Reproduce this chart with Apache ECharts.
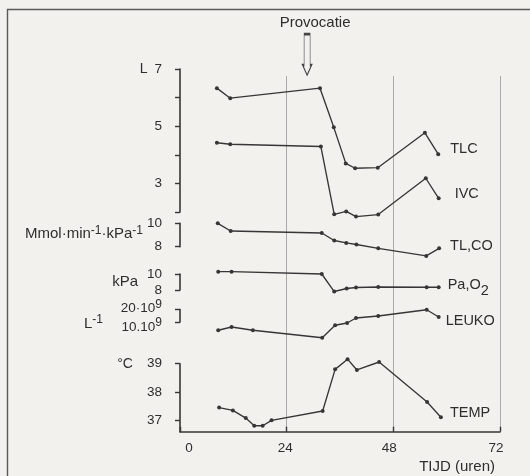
<!DOCTYPE html>
<html><head><meta charset="utf-8">
<script src="https://cdn.jsdelivr.net/npm/echarts@6/dist/echarts.min.js"></script>
<style>html,body{margin:0;padding:0;background:#f2f1ed;} #c{width:530px;height:476px;}</style>
</head><body><div id="c"></div>
<script>
// ---- data (hours after start) ----
const hoursTLC   = [8.3, 11.3, 31.5, 34.6, 37.3, 39.4, 44.5, 55.1, 58.1];
const tlc        = [6.33, 5.98, 6.33, 4.96, 3.70, 3.53, 3.55, 4.77, 4.02];
const hoursIVC   = [8.3, 11.3, 31.7, 34.7, 37.4, 39.6, 44.6, 55.3, 58.2];
const ivc        = [4.42, 4.37, 4.29, 1.92, 2.02, 1.84, 1.91, 3.18, 2.48];
const hoursTLCO  = [8.5, 11.4, 31.9, 34.7, 37.4, 39.7, 44.6, 55.4, 58.3];
const tlco       = [10.0, 9.34, 9.17, 8.53, 8.32, 8.19, 7.86, 7.21, 7.86];
const hoursPaO2  = [8.6, 11.6, 31.9, 34.7, 37.5, 39.6, 44.6, 55.5, 58.2];
const paO2       = [10.29, 10.29, 10.0, 7.81, 8.19, 8.31, 8.38, 8.34, 8.34];
const hoursLeuko = [8.6, 11.6, 16.4, 32.0, 34.9, 37.6, 39.6, 44.6, 55.5, 58.2];
const leuko      = [3.4, 6.0, 3.4, -2.6, 7.4, 9.2, 13.2, 14.8, 19.8, 14.0]; // x 10^9
const hoursTemp  = [8.8, 11.9, 14.8, 16.7, 18.6, 20.6, 32.1, 34.9, 37.7, 39.8, 44.8, 55.6, 58.7];
const temp       = [37.45, 37.35, 37.08, 36.81, 36.81, 37.0, 37.33, 38.80, 39.16, 38.78, 39.06, 37.65, 37.11];
const xTickLabels = [0, 24, 48, 72];
const lTickLabels = [3, 5, 7];
const tempTickLabels = [37, 38, 39];
const provocatieHour = 28.6;

const INK = '#363636';
const TXT = '#2e2e2e';
const BG = '#f2f1ed';
const FONT = '"Liberation Sans", Arial, sans-serif';
const L = 180, W = 320;

function pairs(h, v) { return h.map((x, i) => [x, v[i]]); }

const supRich = {
  b: { fontSize: 15, color: TXT, fontFamily: FONT, verticalAlign: 'bottom' },
  s: { fontSize: 12, color: TXT, fontFamily: FONT, verticalAlign: 'top', padding: [0, 0, 6, 0] }
};
function tok(size, pad, va) {
  return { fontSize: size, color: TXT, fontFamily: FONT, verticalAlign: va || 'top', padding: pad };
}

function mkGrid(top, height) {
  return { left: L, width: W, top: top, height: height, containLabel: false, outerBoundsMode: 'none' };
}
function hiddenX(i) {
  return { gridIndex: i, type: 'value', min: 0, max: 72, interval: 24, show: false };
}
function yBase(i, extra) {
  return Object.assign({
    gridIndex: i, type: 'value',
    axisLine: { show: true, lineStyle: { color: INK, width: 1.6 } },
    axisTick: { show: true, inside: false, length: 5, lineStyle: { color: INK, width: 1.4 } },
    axisLabel: { show: true, margin: 18, fontSize: 13.5, color: TXT, fontFamily: FONT,
                 showMinLabel: true, showMaxLabel: true, hideOverlap: false },
    splitLine: { show: false },
    nameMoveOverlap: false
  }, extra);
}

function lineSeries(name, xi, yi, h, v, label, offset, rich) {
  return {
    type: 'line', name: name, xAxisIndex: xi, yAxisIndex: yi,
    data: pairs(h, v), clip: false, silent: true,
    symbol: 'circle', symbolSize: 4, showSymbol: true,
    lineStyle: { color: INK, width: 1.35 },
    itemStyle: { color: INK },
    endLabel: {
      show: true, formatter: label, distance: 0, offset: offset,
      fontSize: 14.5, color: TXT, fontFamily: FONT, rich: rich
    }
  };
}

const option = {
  animation: false,
  backgroundColor: BG,
  textStyle: { fontFamily: FONT },
  grid: [
    mkGrid(76, 355.7),    // 0 background grid lines
    mkGrid(69, 143),      // 1 L
    mkGrid(223.3, 23.4),  // 2 Mmol
    mkGrid(274, 16),      // 3 kPa
    mkGrid(309.5, 12.5),  // 4 L-1
    mkGrid(363.7, 68),    // 5 °C
    mkGrid(34.3, 40.7)    // 6 annotation (provocation arrow)
  ],
  xAxis: [
    { gridIndex: 0, type: 'value', min: 0, max: 72, interval: 24,
      axisLine: { show: false }, axisTick: { show: false }, axisLabel: { show: false },
      splitLine: { show: true, showMinLine: false, showMaxLine: true, lineStyle: { color: '#aaaaaa', width: 1 } } },
    hiddenX(1), hiddenX(2), hiddenX(3), hiddenX(4),
    { gridIndex: 5, type: 'value', min: 0, max: 72, interval: 24,
      axisLine: { show: true, lineStyle: { color: INK, width: 1.6 } },
      axisTick: { show: true, inside: true, length: 5, lineStyle: { color: INK, width: 1.4 } },
      axisLabel: { show: true, margin: 10, fontSize: 13.5, color: TXT, fontFamily: FONT,
        customValues: xTickLabels, showMinLabel: true, showMaxLabel: true,
        formatter: v => '{t' + v + '|' + v + '}',
        rich: {
          t0: tok(13.5, [0, 0, 0, 18], 'middle'),
          t24: tok(13.5, [0, 3, 0, 0], 'middle'),
          t48: tok(13.5, [0, 8, 0, 0], 'middle'),
          t72: tok(13.5, [0, 8, 0, 0], 'middle')
        } },
      splitLine: { show: false },
      name: 'TIJD (uren)', nameLocation: 'end', nameGap: -5, nameMoveOverlap: false,
      nameTextStyle: { fontSize: 15, color: TXT, fontFamily: FONT, align: 'right', verticalAlign: 'top', padding: [28, 0, 0, 0] } },
    hiddenX(6)
  ],
  yAxis: [
    { gridIndex: 0, type: 'value', min: 0, max: 1, show: false },
    yBase(1, {
      min: 2, max: 7, interval: 1,
      axisLabel: { show: true, margin: 18, fontSize: 13.5, color: TXT, fontFamily: FONT,
        customValues: lTickLabels, showMinLabel: true, showMaxLabel: true,
        formatter: v => v === 7 ? '{u|L}{v|7}' : String(v),
        rich: { u: { fontSize: 14, color: TXT, fontFamily: FONT, padding: [0, 7, 0, 0] },
                v: { fontSize: 13.5, color: TXT, fontFamily: FONT } } }
    }),
    yBase(2, {
      min: 8, max: 10, interval: 2,
      name: 'Mmol·min{s|-1}·kPa{s|-1}', nameLocation: 'middle', nameRotate: 0, nameGap: 37,
      nameTextStyle: { fontSize: 15, color: TXT, fontFamily: FONT, padding: [0, 0, 2, 0], rich: supRich }
    }),
    yBase(3, {
      min: 8, max: 10, interval: 2,
      name: 'kPa', nameLocation: 'middle', nameRotate: 0, nameGap: 42,
      nameTextStyle: { fontSize: 15, color: TXT, fontFamily: FONT, padding: [12, 0, 0, 0] }
    }),
    yBase(4, {
      min: 10, max: 20, interval: 10,
      axisLabel: { show: true, margin: 18, fontSize: 13.5, color: TXT, fontFamily: FONT,
        showMinLabel: true, showMaxLabel: true, hideOverlap: false,
        formatter: v => (v === 20 ? '{b|20·10}{s|9}' : '{c|10.10}{t|9}'),
        rich: {
          b: tok(13.5, [4, 0, 6, 0]),
          s: tok(12, [1, 0, 0, 0]),
          c: tok(13.5, [12, 0, 2, 0]),
          t: tok(12, [9, 0, 0, 0])
        } },
      name: '{b|L}{s|-1}', nameLocation: 'middle', nameRotate: 0, nameGap: 77,
      nameTextStyle: { fontSize: 15, color: TXT, fontFamily: FONT, padding: [14, 0, 0, 0], rich: supRich }
    }),
    yBase(5, {
      min: 36.6, max: 39,
      axisTick: { show: true, inside: false, length: 5, customValues: tempTickLabels, lineStyle: { color: INK, width: 1.4 } },
      axisLabel: { show: true, margin: 18, fontSize: 13.5, color: TXT, fontFamily: FONT,
        customValues: tempTickLabels, showMinLabel: true, showMaxLabel: true,
        formatter: v => v === 39 ? '{u|°C}{v|39}' : String(v),
        rich: { u: { fontSize: 14, color: TXT, fontFamily: FONT, padding: [0, 14, 0, 0] },
                v: { fontSize: 13.5, color: TXT, fontFamily: FONT } } }
    }),
    { gridIndex: 6, type: 'value', min: 0, max: 1, show: false }
  ],
  graphic: [
    { type: 'rect', silent: true, z: -1,
      shape: { x: 7.5, y: 9.5, width: 700, height: 700 },
      style: { fill: 'none', stroke: '#5a5a5a', lineWidth: 1.4 } }
  ],
  series: [
    lineSeries('TLC', 1, 1, hoursTLC, tlc, 'TLC', [12, -5]),
    lineSeries('IVC', 1, 1, hoursIVC, ivc, 'IVC', [16, -4]),
    lineSeries('TL,CO', 2, 2, hoursTLCO, tlco, 'TL,CO', [11, -2]),
    lineSeries('Pa,O2', 3, 3, hoursPaO2, paO2, '{b|Pa,O}{s|2}', [9, 1], {
      b: { fontSize: 14.5, color: TXT, fontFamily: FONT, verticalAlign: 'top' },
      s: { fontSize: 14.5, color: TXT, fontFamily: FONT, verticalAlign: 'bottom', padding: [6, 0, 0, 0] }
    }),
    lineSeries('LEUKO', 4, 4, hoursLeuko, leuko, 'LEUKO', [7, 4]),
    lineSeries('TEMP', 5, 5, hoursTemp, temp, 'TEMP', [9, -4]),
    {
      type: 'scatter', name: 'Provocatie', xAxisIndex: 6, yAxisIndex: 6, clip: false, silent: true,
      data: [[provocatieHour, 0.5]],
      symbol: 'path://M1.5,0 L7.5,0 L7.5,31 L9,31 L4.5,41 L0,31 L1.5,31 Z',
      symbolSize: [9, 41],
      itemStyle: { color: BG, borderColor: '#444', borderWidth: 1.2, opacity: 1 },
      label: { show: true, position: 'top', distance: 3, offset: [8, 0],
               formatter: 'Provocatie', fontSize: 15, color: TXT, fontFamily: FONT }
    }
  ]
};

const chart = echarts.init(document.getElementById('c'), null, { renderer: 'canvas' });
chart.setOption(option);
</script>
</body></html>
